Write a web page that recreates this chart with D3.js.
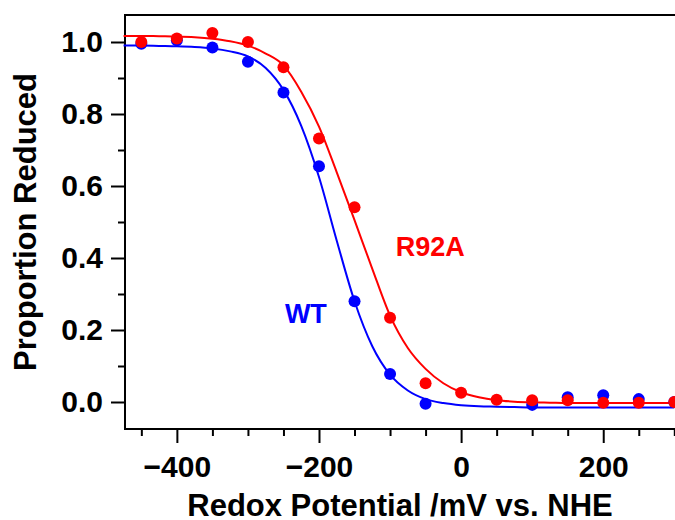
<!DOCTYPE html>
<html>
<head>
<meta charset="utf-8">
<script src="https://cdn.jsdelivr.net/npm/d3@7"></script>
<style>
  body { margin: 0; background: #fff; }
  text { font-family: "Liberation Sans", Arial, Helvetica, sans-serif; font-weight: bold; }
</style>
</head>
<body>
<div id="chart"></div>
<script>
// measured points (mV vs. NHE)
const potentials = [-450, -400, -350, -300, -250, -200, -150, -100, -50, 0, 50, 100, 150, 200, 250, 300];
const wtValues   = [0.995, 1.005, 0.985, 0.945, 0.86, 0.655, 0.28, 0.078, -0.005, null, null, -0.008, 0.013, 0.019, 0.008, 0.0];
const r92aValues = [1.0, 1.01, 1.025, 1.0, 0.93, 0.732, 0.541, 0.234, 0.052, 0.026, 0.006, 0.005, 0.005, -0.002, -0.002, 0.0];

// fitted curves
const fitPotentials = [-475, -450, -425, -400, -375, -350, -325, -300, -275, -250, -225, -200, -175, -150, -125, -100,
                       -75, -50, -25, 0, 25, 50, 75, 100, 125, 150, 175, 200, 225, 250, 275, 300];
const wtFit   = [0.990, 0.990, 0.989, 0.988, 0.986, 0.982, 0.974, 0.960, 0.928, 0.867, 0.767, 0.625, 0.448, 0.280, 0.155, 0.076,
                 0.032, 0.008, -0.003, -0.009, -0.012, -0.013, -0.014, -0.015, -0.015, -0.015, -0.015, -0.015, -0.015, -0.015, -0.015, -0.015];
const r92aFit = [1.017, 1.017, 1.016, 1.015, 1.013, 1.009, 1.002, 0.990, 0.968, 0.935, 0.862, 0.765, 0.638, 0.505, 0.370, 0.240,
                 0.150, 0.092, 0.052, 0.027, 0.013, 0.005, 0.001, -0.001, -0.002, -0.003, -0.003, -0.003, -0.003, -0.003, -0.003, -0.003];

const xMajor = [-400, -200, 0, 200];
const xMinor = [-450, -350, -300, -250, -150, -100, -50, 50, 100, 150, 250, 300];
const yMajor = [0, 0.2, 0.4, 0.6, 0.8, 1.0];
const yMinor = [0.1, 0.3, 0.5, 0.7, 0.9];

const width = 675;
const height = 520;
const margin = {top: 15, right: 0, bottom: 91, left: 125};
const innerWidth = width - margin.left - margin.right;
const innerHeight = height - margin.top - margin.bottom;

const svg = d3.select('#chart')
    .append('svg')
        .attr('width', width)
        .attr('height', height);

const g = svg.append('g')
    .attr('transform', `translate(${margin.left},${margin.top})`);

const xScale = d3.scaleLinear()
    .domain([-473, 301])
    .range([0, innerWidth]);

const yScale = d3.scaleLinear()
    .domain([-0.075, 1.075])
    .range([innerHeight, 0]);

// axes: major ticks with labels, minor ticks without
const xAxisG = g.append('g').attr('transform', `translate(0,${innerHeight})`);
xAxisG.call(d3.axisBottom(xScale).tickValues(xMajor).tickSize(14).tickPadding(13).tickFormat(d3.format('d')));
xAxisG.append('g').call(d3.axisBottom(xScale).tickValues(xMinor).tickSize(7).tickFormat(''));

const yAxisG = g.append('g');
yAxisG.call(d3.axisLeft(yScale).tickValues(yMajor).tickSize(14).tickPadding(8).tickFormat(d3.format('.1f')));
yAxisG.append('g').call(d3.axisLeft(yScale).tickValues(yMinor).tickSize(7).tickFormat(''));

svg.selectAll('.domain').remove();
svg.selectAll('.tick line').attr('stroke', '#000').attr('stroke-width', 2);
svg.selectAll('.tick text')
    .attr('fill', '#000')
    .style('font-size', '30px')
    .style('font-family', '"Liberation Sans", Arial, sans-serif')
    .style('font-weight', 'bold');

// frame (left, bottom, top)
g.append('path')
    .attr('d', `M${innerWidth + 1},0H0V${innerHeight}H${innerWidth + 1}`)
    .attr('fill', 'none')
    .attr('stroke', '#000')
    .attr('stroke-width', 2);

const line = d3.line()
    .defined(d => d.v !== null)
    .x(d => xScale(d.e))
    .y(d => yScale(d.v))
    .curve(d3.curveMonotoneX);

const series = [
    {name: 'WT', color: '#0000ff', fit: wtFit, values: wtValues},
    {name: 'R92A', color: '#ff0000', fit: r92aFit, values: r92aValues}
];

series.forEach(s => {
    g.append('path')
        .datum(fitPotentials.map((e, i) => ({e: e, v: s.fit[i]})))
        .attr('fill', 'none')
        .attr('stroke', s.color)
        .attr('stroke-width', 2)
        .attr('d', line);
});

series.forEach(s => {
    g.selectAll('.dot-' + s.name)
        .data(potentials.map((e, i) => ({e: e, v: s.values[i]})).filter(d => d.v !== null))
        .enter()
        .append('circle')
            .attr('cx', d => xScale(d.e))
            .attr('cy', d => yScale(d.v))
            .attr('r', 6)
            .attr('fill', s.color);
});

// series labels
g.append('text')
    .attr('x', xScale(-248))
    .attr('y', yScale(0.22))
    .attr('fill', '#0000ff')
    .style('font-size', '27px')
    .text('WT');

g.append('text')
    .attr('x', xScale(-92))
    .attr('y', yScale(0.405))
    .attr('fill', '#ff0000')
    .style('font-size', '27px')
    .text('R92A');

// axis titles
svg.append('text')
    .attr('x', 400)
    .attr('y', 516)
    .attr('text-anchor', 'middle')
    .attr('fill', '#000')
    .style('font-size', '31px')
    .text('Redox Potential /mV vs. NHE');

svg.append('text')
    .attr('transform', 'translate(36,222) rotate(-90)')
    .attr('text-anchor', 'middle')
    .attr('fill', '#000')
    .style('font-size', '31px')
    .text('Proportion Reduced');
</script>
</body>
</html>
